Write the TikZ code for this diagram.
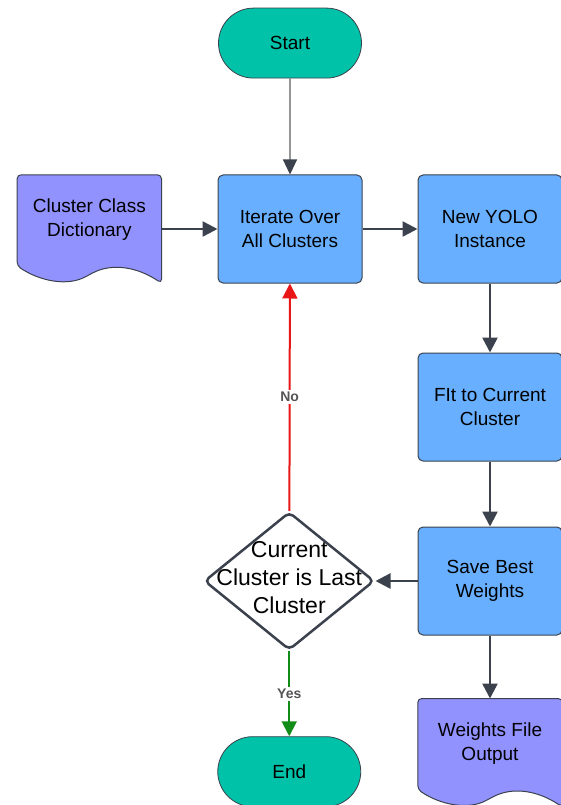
\documentclass[tikz,border=0pt]{standalone}
\usepackage{fontspec}
\setmainfont{Liberation Sans}
\usetikzlibrary{shapes.geometric, arrows.meta, positioning, calc, backgrounds}

\definecolor{termgreen}{RGB}{0,194,168}
\definecolor{procblue}{RGB}{104,176,255}
\definecolor{docpurple}{RGB}{146,146,255}
\definecolor{edgegray}{RGB}{59,66,77}
\definecolor{linegray}{RGB}{150,150,150}
\definecolor{lblgray}{RGB}{85,85,85}
\definecolor{nored}{RGB}{232,22,22}
\definecolor{yesgreen}{RGB}{18,140,24}

\tikzset{
  base/.style={font=\fontsize{19}{24}\selectfont, align=center, inner sep=0pt},
  terminal/.style={base, draw=edgegray, line width=0.8pt, fill=termgreen, rounded corners=35pt, minimum width=143pt, minimum height=70pt},
  process/.style={base, draw=edgegray, line width=1pt, fill=procblue, rounded corners=5pt, minimum width=144pt, minimum height=108pt},
  docnode/.style={base, minimum width=144pt, minimum height=108pt},
  doctext/.style={base, yshift=9pt},
  docline/.style={draw=edgegray, line width=1pt, fill=docpurple, rounded corners=4pt},
  decision/.style={diamond, draw=edgegray, line width=2.5pt, fill=white, rounded corners=5pt, minimum width=170pt, minimum height=138pt, inner sep=0pt},
  dectext/.style={align=center, font=\fontsize{23}{28}\selectfont, inner sep=0pt, yshift=3pt},
  flow/.style={draw=edgegray, line width=2.5pt, -{Triangle[length=15pt,width=15pt]}},
  startflow/.style={draw=linegray, line width=1.2pt, -{Triangle[length=15pt,width=14pt,color=edgegray]}},
  noflow/.style={draw=nored, line width=2pt, -{Triangle[length=15pt,width=15pt]}},
  yesflow/.style={draw=yesgreen, line width=2pt, -{Triangle[length=15pt,width=15pt]}},
  lbl/.style={fill=white, text=lblgray, font=\bfseries\fontsize{14}{16}\selectfont, inner sep=2pt}
}

% wavy document outline round a node
\newcommand{\docshape}[1]{%
  \path[docline] (#1.north) -- (#1.north west) -- ($(#1.north west)+(0,91)$)
    .. controls ($(#1.north west)+(22,106)$) and ($(#1.north west)+(50,112)$) .. ($(#1.north west)+(72,100)$)
    .. controls ($(#1.north west)+(95,88)$) and ($(#1.north west)+(120,92)$) .. (#1.south east)
    -- (#1.north east) -- cycle;}

\begin{document}
\begin{tikzpicture}[x=1pt, y=-1pt]
    \useasboundingbox (0,0) rectangle (560,805);

    % Main column
    \node[process] (iterate) at (290,229) {Iterate Over\\All Clusters};
    \node[terminal, above=96pt of iterate] (start) {Start};
    \node[docnode, left=56pt of iterate, label={[doctext]center:Cluster Class\\Dictionary}] (dict) {};

    % Right column
    \node[process, right=55pt of iterate] (yolo) {New YOLO\\Instance};
    \node[process, below=69pt of yolo] (fit) {FIt to Current\\Cluster};
    \node[process, below=65pt of fit] (save) {Save Best\\Weights};
    \node[docnode, below=63pt of save, label={[doctext]center:Weights File\\Output}] (wfile) {};

    % Decision and end
    \node[decision, left=42pt of save] (last) {};
    \node[dectext] (lasttext) at (last) {Current\\Cluster is Last\\Cluster};
    \node[terminal, below=85pt of last] (end) {End};

    % Document shapes
    \begin{scope}[on background layer]
        \docshape{dict}
        \docshape{wfile}
    \end{scope}

    % Edges
    \draw[startflow] (start) -- (iterate);
    \draw[flow] (dict) -- (iterate);
    \draw[flow] (iterate) -- (yolo);
    \draw[flow] (yolo) -- (fit);
    \draw[flow] (fit) -- (save);
    \draw[flow] (save) -- (last);
    \draw[flow] (save) -- (wfile);
    \draw[noflow] (last) -- node[lbl] {No} (iterate);
    \draw[yesflow] (last) -- node[lbl] {Yes} (end);
\end{tikzpicture}
\end{document}
